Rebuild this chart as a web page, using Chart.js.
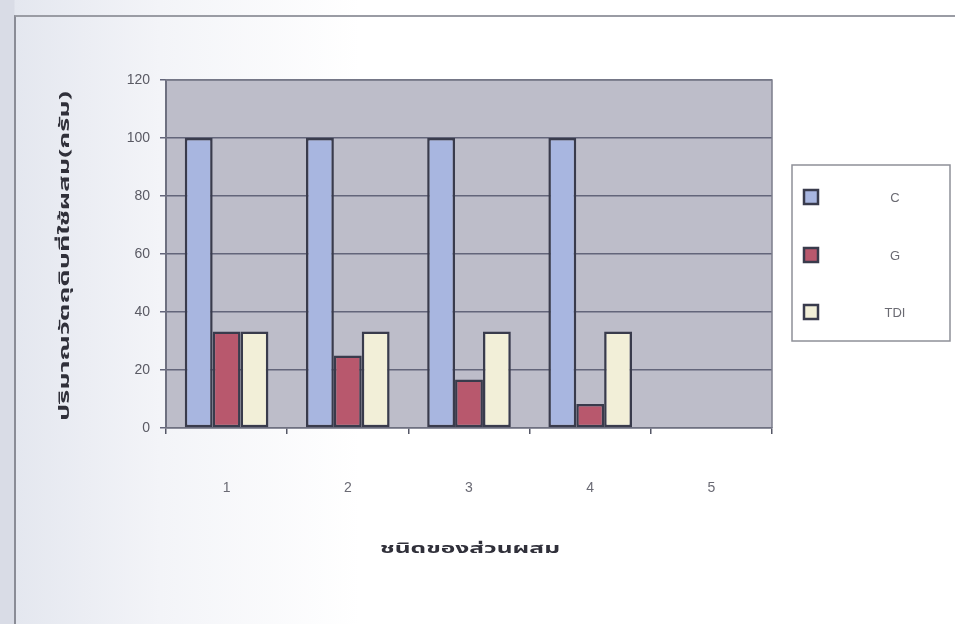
<!DOCTYPE html>
<html>
<head>
<meta charset="utf-8">
<script src="https://cdn.jsdelivr.net/npm/chart.js@4.4.1/dist/chart.umd.min.js"></script>
<style>
  html, body { margin: 0; padding: 0; }
  body {
    width: 955px; height: 624px; overflow: hidden;
    background: linear-gradient(to right, #d9dce6 0px, #d9dce6 14px, #e4e7ef 15px, #f3f4f8 160px, #ffffff 360px);
  }
  #frame {
    position: absolute; left: 14px; top: 15px; width: 960px; height: 640px;
    border-left: 2px solid #8a8c96; border-top: 2px solid #9a9ca4;
  }
  #wrap { position: absolute; left: 0; top: 0; width: 955px; height: 624px; }
</style>
</head>
<body>
<div id="frame"></div>
<div id="wrap"><canvas id="chart" width="955" height="624"></canvas></div>
<script>
// Mixture types on the x axis
const categories = ['1', '2', '3', '4', '5'];
// Grams of each ingredient per mixture
const seriesNames = ['C', 'G', 'TDI'];
const cValues = [100, 100, 100, 100, null];
const gValues = [33.3, 25, 16.7, 8.3, null];
const tdiValues = [33.3, 33.3, 33.3, 33.3, null];
// Value axis ticks
const yTicks = [0, 20, 40, 60, 80, 100, 120];
// Axis titles
const xTitle = 'ชนิดของส่วนผสม';
const yTitle = 'ปริมาณวัตถุดิบที่ใช้ผสม(กรัม)';

const THAI_FONT = '"Noto Sans Thai", "Noto Sans", "DejaVu Sans", sans-serif';
const LATIN_FONT = '"Liberation Sans", Arial, sans-serif';
const BAR_EDGE = '#393b4c';
const GRID = '#63657a';

// Plot-area fill and border
const plotBackground = {
  id: 'plotBackground',
  beforeDraw(chart) {
    const { ctx, chartArea: a } = chart;
    ctx.save();
    ctx.fillStyle = '#bdbdc9';
    ctx.fillRect(a.left, a.top, a.right - a.left, a.bottom - a.top);
    ctx.restore();
  },
  afterDraw(chart) {
    const { ctx, chartArea: a } = chart;
    ctx.save();
    ctx.strokeStyle = '#7c7e8c';
    ctx.lineWidth = 1.5;
    ctx.beginPath();
    ctx.moveTo(a.left, a.top);
    ctx.lineTo(a.right, a.top);
    ctx.lineTo(a.right, a.bottom);
    ctx.stroke();
    ctx.restore();
  }
};

// Wide, bold axis titles set in the chart's Thai face
function drawWideText(ctx, text, cx, cy, span, rotation) {
  ctx.save();
  ctx.font = 'bold 14px ' + THAI_FONT;
  ctx.fillStyle = '#30303a';
  ctx.textAlign = 'center';
  ctx.textBaseline = 'middle';
  const w = ctx.measureText(text).width;
  ctx.translate(cx, cy);
  ctx.rotate(rotation);
  ctx.scale(span / w, 1);
  ctx.fillText(text, 0, 0);
  ctx.restore();
}

const axisTitles = {
  id: 'axisTitles',
  afterDraw(chart) {
    const { ctx, chartArea: a } = chart;
    drawWideText(ctx, xTitle, (a.left + a.right) / 2 + 1, 550, 180, 0);
    drawWideText(ctx, yTitle, 66, (a.top + a.bottom) / 2 + 2, 330, -Math.PI / 2);
  }
};

// Boxed legend to the right of the plot
const boxLegend = {
  id: 'boxLegend',
  afterDraw(chart) {
    const { ctx } = chart;
    const x = 792, y = 165, w = 158, h = 176;
    ctx.save();
    ctx.fillStyle = '#ffffff';
    ctx.fillRect(x, y, w, h);
    ctx.strokeStyle = '#8e9098';
    ctx.lineWidth = 1.5;
    ctx.strokeRect(x, y, w, h);
    const rows = [197, 255, 312];
    chart.data.datasets.forEach((ds, i) => {
      const cy = rows[i];
      ctx.fillStyle = ds.backgroundColor;
      ctx.fillRect(x + 12, cy - 7, 14, 14);
      ctx.strokeStyle = BAR_EDGE;
      ctx.lineWidth = 2.5;
      ctx.strokeRect(x + 12, cy - 7, 14, 14);
      ctx.fillStyle = '#6a6a72';
      ctx.font = '13px ' + LATIN_FONT;
      ctx.textAlign = 'center';
      ctx.textBaseline = 'middle';
      ctx.fillText(ds.label, x + 103, cy + 1);
    });
    ctx.restore();
  }
};

new Chart(document.getElementById('chart'), {
  type: 'bar',
  data: {
    labels: categories,
    datasets: [
      { label: seriesNames[0], data: cValues, backgroundColor: '#a8b6e0' },
      { label: seriesNames[1], data: gValues, backgroundColor: '#b8586d' },
      { label: seriesNames[2], data: tdiValues, backgroundColor: '#f2efd8' }
    ].map(d => Object.assign(d, { borderColor: BAR_EDGE, borderWidth: 2.5, borderSkipped: false }))
  },
  options: {
    responsive: false,
    animation: false,
    devicePixelRatio: 1,
    layout: { padding: { left: 0, top: 80, right: 183, bottom: 64 } },
    datasets: { bar: { categoryPercentage: 0.69, barPercentage: 1.0 } },
    plugins: { legend: { display: false }, tooltip: { enabled: false } },
    scales: {
      x: {
        offset: true,
        grid: { offset: true, drawOnChartArea: false, drawTicks: true, tickLength: 6, color: '#555766', lineWidth: 1.5 },
        border: { color: '#6e7080', width: 1.5 },
        ticks: { padding: 46, color: '#6a6a74', font: { size: 14, family: LATIN_FONT } },
        afterFit(scale) { scale.height = 132; }
      },
      y: {
        min: 0,
        max: 120,
        afterBuildTicks(scale) { scale.ticks = yTicks.map(v => ({ value: v })); },
        grid: { color: GRID, lineWidth: 1.5, drawTicks: true, tickLength: 6 },
        border: { color: '#6e7080', width: 2 },
        ticks: { padding: 10, color: '#5a5a64', font: { size: 14, family: LATIN_FONT } },
        afterFit(scale) { scale.width = 166; }
      }
    }
  },
  plugins: [plotBackground, axisTitles, boxLegend]
});
</script>
</body>
</html>
